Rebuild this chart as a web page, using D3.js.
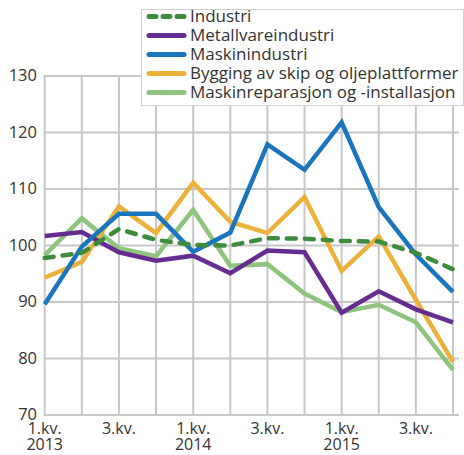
<!DOCTYPE html>
<html>
<head>
<meta charset="utf-8">
<script src="https://cdn.jsdelivr.net/npm/d3@7"></script>
<style>
  body { margin: 0; background: #fff; }
  text { font-family: "Open Sans", sans-serif; fill: #333; }
</style>
</head>
<body>
<svg id="chart" width="464" height="455"></svg>
<script>
// quarters 1.kv. 2013 .. 4.kv. 2015
var quarters = ["2013K1","2013K2","2013K3","2013K4","2014K1","2014K2","2014K3","2014K4","2015K1","2015K2","2015K3","2015K4"];
var xTickLabels = ["1.kv.|2013", "", "3.kv.|", "", "1.kv.|2014", "", "3.kv.|", "", "1.kv.|2015", "", "3.kv.|", ""];
var yTicks = [70, 80, 90, 100, 110, 120, 130];

var industri = [97.8, 98.7, 102.9, 101.0, 100.1, 100.0, 101.3, 101.2, 100.8, 100.7, 98.7, 95.8];
var metallvare = [101.7, 102.4, 98.8, 97.3, 98.2, 95.1, 99.1, 98.8, 88.1, 91.9, 88.7, 86.4];
var maskin = [89.6, 99.8, 105.6, 105.6, 98.9, 102.3, 117.9, 113.4, 121.8, 106.8, 98.4, 91.8];
var bygging = [94.3, 97.1, 106.9, 102.2, 111.1, 104.2, 102.2, 108.6, 95.5, 101.6, 90.4, 79.4];
var reparasjon = [98.3, 104.8, 99.5, 98.1, 106.3, 96.4, 96.7, 91.5, 88.2, 89.5, 86.4, 78.0];

var seriesNames = ["Industri", "Metallvareindustri", "Maskinindustri", "Bygging av skip og oljeplattformer", "Maskinreparasjon og -installasjon"];
var seriesValues = [industri, metallvare, maskin, bygging, reparasjon];
var seriesColors = ["#3d8c3d", "#662d91", "#1b75bc", "#ecb13a", "#8fc47f"];
var seriesDashed = [true, false, false, false, false];

(function () {
  var svg = d3.select("#chart");
  var plotLeft = 44.7, plotRight = 459, plotTop = 76, plotBottom = 415;

  var x = d3.scaleLinear().domain([0, 11]).range([plotLeft, 453]);
  var y = d3.scaleLinear().domain([70, 130]).range([plotBottom, plotTop]);

  // grid
  var grid = svg.append("g").attr("stroke", "#c8c8c8").attr("stroke-width", 2);
  grid.selectAll("line.h").data(yTicks).enter().append("line")
    .attr("x1", plotLeft - 1).attr("x2", plotRight)
    .attr("y1", function (d) { return y(d); }).attr("y2", function (d) { return y(d); });
  grid.selectAll("line.v").data(quarters).enter().append("line")
    .attr("x1", function (d, i) { return x(i); }).attr("x2", function (d, i) { return x(i); })
    .attr("y1", plotTop).attr("y2", plotBottom);

  // y labels
  svg.append("g").selectAll("text").data(yTicks).enter().append("text")
    .attr("x", 37).attr("y", function (d) { return y(d); })
    .attr("dy", "0.33em").attr("text-anchor", "end")
    .style("font-size", "16.5px")
    .text(function (d) { return d; });

  // x labels, two rows; skip empty slots
  var labelled = xTickLabels.map(function (d, i) { return { i: i, q: d.split("|")[0], yr: d.split("|")[1] || "" }; });
  var xg = svg.append("g").style("font-size", "16px").attr("text-anchor", "middle");
  xg.selectAll("text.q").data(labelled.filter(function (d) { return d.q; })).enter().append("text")
    .attr("x", function (d) { return x(d.i); }).attr("y", 434)
    .text(function (d) { return d.q; });
  xg.selectAll("text.yr").data(labelled.filter(function (d) { return d.yr; })).enter().append("text")
    .attr("x", function (d) { return x(d.i); }).attr("y", 450)
    .text(function (d) { return d.yr; });

  // lines, dashed Industri on top
  var line = d3.line().x(function (d, i) { return x(i); }).y(function (d) { return y(d); });
  var order = [4, 3, 1, 2, 0];
  order.forEach(function (k) {
    svg.append("path")
      .datum(seriesValues[k])
      .attr("d", line)
      .attr("fill", "none")
      .attr("stroke", seriesColors[k])
      .attr("stroke-width", 4.5)
      .attr("stroke-dasharray", seriesDashed[k] ? "9,9" : null)
      .attr("stroke-linecap", seriesDashed[k] ? "round" : "butt");
  });

  // legend
  var lg = svg.append("g");
  lg.append("rect").attr("x", 141.5).attr("y", 9.5).attr("width", 322).attr("height", 96)
    .attr("fill", "#fff").attr("stroke", "#d0d0d0");
  var items = lg.selectAll("g.item").data(seriesNames).enter().append("g")
    .attr("transform", function (d, i) { return "translate(0," + (16.5 + i * 19) + ")"; });
  items.append("line").attr("x1", 149).attr("x2", 184).attr("y1", 0).attr("y2", 0)
    .attr("stroke", function (d, i) { return seriesColors[i]; })
    .attr("stroke-width", 5)
    .attr("stroke-linecap", "round")
    .attr("stroke-dasharray", function (d, i) { return seriesDashed[i] ? "7,7" : null; });
  items.append("text").attr("x", 190).attr("y", 0).attr("dy", "0.35em")
    .style("font-size", "17px")
    .text(function (d) { return d; });
})();
</script>
</body>
</html>
